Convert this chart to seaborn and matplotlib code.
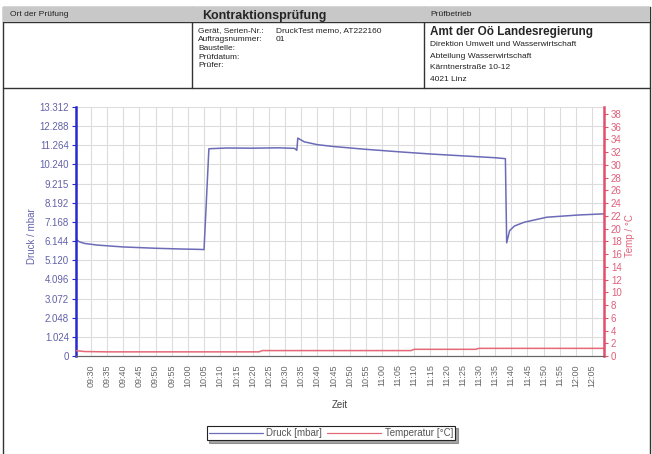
import pandas as pd
import matplotlib.pyplot as plt
import seaborn as sns
from matplotlib.lines import Line2D
from matplotlib.patches import Rectangle

# time in minutes since midnight
druck_t = [565.4, 566.5, 568, 572, 580, 590, 598, 603.5, 605.0, 606.5, 612, 620, 628, 633.0,
           633.7, 634.0, 636, 640, 645, 655, 665, 675, 685, 695, 698.2,
           698.6, 699.5, 701, 704, 711, 721, 728.7]
druck_mbar = [6230, 6100, 6020, 5930, 5830, 5760, 5720, 5700, 5690, 11080, 11120, 11110, 11130, 11100,
              11000, 11650, 11450, 11300, 11200, 11050, 10920, 10800, 10700, 10600, 10550,
              6050, 6700, 6950, 7150, 7420, 7540, 7600]

temp_t = [565.4, 568, 575, 622, 623, 669, 670, 689, 690, 728.7]
temp_c = [0.85, 0.7, 0.65, 0.65, 0.85, 0.85, 1.05, 1.05, 1.2, 1.2]

druck_ticks = [0, 1024, 2048, 3072, 4096, 5120, 6144, 7168, 8192, 9215, 10240, 11264, 12288, 13312]
druck_labels = ["0", "1.024", "2.048", "3.072", "4.096", "5.120", "6.144", "7.168", "8.192",
                "9.215", "10.240", "11.264", "12.288", "13.312"]
temp_ticks = list(range(0, 40, 2))
zeit_ticks = list(range(570, 730, 5))
zeit_labels = [f"{m // 60:02d}:{m % 60:02d}" for m in zeit_ticks]

BLUE_LINE = "#6b6bb8"
RED_LINE = "#e46876"

sns.set_style("white")
plt.rcParams["font.family"] = ["Liberation Sans", "DejaVu Sans"]

fig = plt.figure(figsize=(6.52, 4.54), dpi=100)
W, H = 652, 454


def fx(x):
    return x / W


def fy(y):
    return 1 - y / H


# header table
fig.patches.append(Rectangle((fx(3), fy(22)), fx(650) - fx(3), fy(7) - fy(22),
                             transform=fig.transFigure, facecolor="#c8c8c8", edgecolor="none"))
for (x0, y0, x1, y1) in [(3, 7, 650, 7), (3, 22, 650, 22), (3, 88, 650, 88),
                         (3, 7, 3, 454), (650, 7, 650, 454),
                         (192, 7, 192, 88), (424, 7, 424, 88)]:
    fig.add_artist(Line2D([fx(x0), fx(x1)], [fy(y0), fy(y1)], transform=fig.transFigure,
                          color="#333333", lw=1.0, zorder=1))

fig.text(fx(10), fy(15), "Ort der Prüfung", fontsize=6, va="center", color="#222")
fig.text(fx(202), fy(15.5), "Kontraktionsprüfung", fontsize=9, fontweight="bold",
         va="center", zorder=5)
fig.text(fx(430), fy(15), "Prüfbetrieb", fontsize=6, va="center", color="#222")

info_keys = ["Gerät, Serien-Nr.:", "Auftragsnummer:", "Baustelle:", "Prüfdatum:", "Prüfer:"]
info_vals = ["DruckTest memo, AT222160", "01", "", "", ""]
for i, (k, v) in enumerate(zip(info_keys, info_vals)):
    fig.text(fx(198), fy(31 + i * 8.7), k, fontsize=6, va="center", color="#222")
    fig.text(fx(276), fy(31 + i * 8.7), v, fontsize=6, va="center", color="#222")

fig.text(fx(430), fy(32), "Amt der Oö Landesregierung", fontsize=8.5, fontweight="bold", va="center")
addr = ["Direktion Umwelt und Wasserwirtschaft", "Abteilung Wasserwirtschaft",
        "Kärntnerstraße 10-12", "4021 Linz"]
for i, line in enumerate(addr):
    fig.text(fx(430), fy(44.5 + i * 11.7), line, fontsize=6, va="center", color="#222")

# chart
ax = fig.add_axes([fx(76), fy(356), fx(604) - fx(76), fy(107) - fy(356)])
ax2 = ax.twinx()

df_druck = pd.DataFrame({"Zeit": druck_t, "Druck": druck_mbar})
df_temp = pd.DataFrame({"Zeit": temp_t, "Temp": temp_c})

sns.lineplot(data=df_druck, x="Zeit", y="Druck", ax=ax, color=BLUE_LINE, lw=1.1)
sns.lineplot(data=df_temp, x="Zeit", y="Temp", ax=ax2, color=RED_LINE, lw=1.1)

ax.set_xlim(565.4, 728.7)
ax.set_ylim(0, 13312)
ax2.set_ylim(0, 39.1)

ax.set_yticks(druck_ticks, druck_labels)
ax2.set_yticks(temp_ticks, [str(t) for t in temp_ticks])
ax.set_xticks(zeit_ticks, zeit_labels, rotation=90)

ax.grid(True, color="#dcdcdc", lw=0.8)
ax2.grid(False)
ax.set_xlabel("")
ax.set_ylabel("")
ax2.set_ylabel("")

ax.tick_params(axis="y", colors="#2828c8", labelcolor="#6262a8", labelsize=7, length=3, width=0.8, pad=2)
ax.tick_params(axis="x", colors="#777777", labelcolor="#666666", labelsize=6.5, length=3, width=0.6, pad=3)
ax2.tick_params(axis="y", colors="#e0506a", labelcolor="#e0607a", labelsize=7, length=3, width=0.8, pad=2)

for a in (ax, ax2):
    a.spines["top"].set_visible(False)
    a.spines["bottom"].set_color("#666666")
ax.spines["left"].set_color("#2828d0")
ax.spines["left"].set_linewidth(1.8)
ax.spines["right"].set_visible(False)
ax2.spines["left"].set_visible(False)
ax2.spines["right"].set_color("#e0506a")
ax2.spines["right"].set_linewidth(1.8)

fig.text(fx(32), fy(236), "Druck / mbar", rotation=90, fontsize=7, color="#6262a8",
         ha="center", va="center")
fig.text(fx(630), fy(236), "Temp / °C", rotation=90, fontsize=7, color="#e0607a",
         ha="center", va="center")
fig.text(fx(340), fy(405), "Zeit", fontsize=7, color="#444444", ha="center", va="center")

handles = [Line2D([], [], color=BLUE_LINE, lw=0.9), Line2D([], [], color=RED_LINE, lw=0.9)]
leg = fig.legend(handles, ["Druck [mbar]", "Temperatur [°C]"], loc="center",
                 bbox_to_anchor=(fx(331), fy(433)), ncol=2, fontsize=7, frameon=True,
                 fancybox=False, shadow=True, edgecolor="#222222", handlelength=5.5,
                 handletextpad=0.4, columnspacing=0.5, borderpad=0.25)
leg.get_frame().set_linewidth(0.8)
for txt in leg.get_texts():
    txt.set_color("#555555")

plt.savefig("out.png", dpi=100)
plt.close()
